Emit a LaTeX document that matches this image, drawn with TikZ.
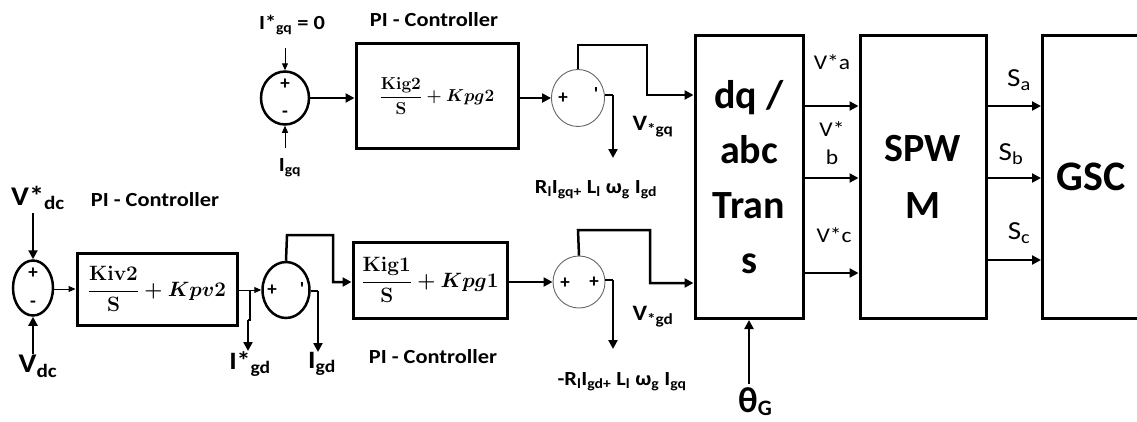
\documentclass[tikz,border=0pt]{standalone}
\usepackage[no-math]{fontspec}
\setmainfont{Carlito}
\newfontfamily\wf{Carlito}[FakeStretch=1.12]
\usetikzlibrary{arrows.meta,shapes.geometric}
\newcommand{\pifrac}[2]{\ensuremath{\displaystyle\frac{\mathrm{#1}}{\mathrm{S}}+#2}}
\begin{document}
\begin{tikzpicture}[x=1pt,y=-1pt,
  blk/.style={draw, line width=3pt, rectangle, inner sep=0pt},
  sumthick/.style={draw, ellipse, line width=2.5pt, inner sep=0pt},
  sumthin/.style={draw=black!60, ellipse, line width=0.9pt, inner sep=0pt},
  conn/.style={line width=2.5pt, -{Triangle[length=9pt,width=9pt]}},
  thinconn/.style={line width=1pt, -{Triangle[length=7pt,width=6pt]}},
  lbl/.style={font=\wf\bfseries\fontsize{20}{22}\selectfont, inner sep=0pt},
  biglbl/.style={font=\wf\bfseries\fontsize{27}{29}\selectfont, inner sep=0pt},
  vlbl/.style={font=\wf\fontsize{21}{23}\selectfont, inner sep=0pt, align=center},
  slbl/.style={font=\wf\fontsize{26}{28}\selectfont, inner sep=0pt},
  sgn/.style={font=\fontsize{19}{19}\selectfont\bfseries, inner sep=0pt},
  frm/.style={font=\fontsize{#1}{#1}\selectfont\boldmath}]
\useasboundingbox (0,0) rectangle (1137,421);
\clip (0,0) rectangle (1137,421);
\fill[white] (0,0) rectangle (1137,421);

% ---------- top (q) branch ----------
\node[sumthick, minimum width=48pt, minimum height=53pt] (sq1) at (285,98) {};
\node[sgn] (sq1p) at (285,84) {+};
\node[sgn] (sq1m) at (285,114) {-};
\node[lbl] (Iqref) at (292,25) {I*\textsubscript{gq} = 0};
\coordinate (IqrefS) at (285,48);
\draw[thinconn] (IqrefS) -- (sq1.north);
\node[lbl] (Iq) at (290,168) {I\textsubscript{gq}};
\coordinate (IqS) at (285,148);
\draw[thinconn] (IqS) -- (sq1.south);

\node[lbl] (piqlbl) at (434,20) {PI - Controller};
\node[blk, minimum width=162pt, minimum height=105pt, frm=19] (piq) at (437,96) {\pifrac{Kig2}{Kpg2}};
\draw[conn] (sq1.east) -- (piq.west |- sq1.east);

\node[sumthin, minimum width=53pt, minimum height=57pt] (sq2) at (578,98) {};
\node[sgn] (sq2p) at (563,98) {+};
\node[sgn] (sq2m) at (596,94) {\textquotesingle};
\draw[conn] (piq.east |- sq2.west) -- (sq2.west);

\coordinate (q2a) at (578,45);
\coordinate (q2b) at (647,45);
\coordinate (q2c) at (647,95);
\node[blk, minimum width=108pt, minimum height=283pt, align=center, font=\fontsize{40}{55}\selectfont\bfseries] (dq) at (749,177) {dq /\\abc\\Tran\\s};
\draw[conn] (sq2.north) -- (q2a) -- (q2b) -- (q2c) -- (dq.west |- q2c);

\coordinate (q2d) at (613,95);
\coordinate (q2e) at (613,158);
\draw[line width=2.5pt] (sq2.east |- q2d) -- (q2d);
\draw[conn] (q2d) -- (q2e);
\node[lbl, font=\wf\bfseries\fontsize{22}{24}\selectfont] (Vgq) at (653,127) {V\textsubscript{*gq}};
\node[lbl] (ffq) at (596,190) {R\textsubscript{l}I\textsubscript{gq+} L\textsubscript{l} ω\textsubscript{g} I\textsubscript{gd}};

% ---------- bottom (d) branch ----------
\node[sumthick, minimum width=40pt, minimum height=55pt] (sv) at (33,288) {};
\node[sgn] (svp) at (33,273) {+};
\node[sgn] (svm) at (33,304) {-};
\node[biglbl] (Vdcref) at (38,198) {V*\textsubscript{dc}};
\coordinate (VdcrefS) at (33,213);
\draw[conn] (VdcrefS) -- (sv.north);
\node[biglbl] (Vdc) at (38,366) {V\textsubscript{dc}};
\coordinate (VdcS) at (33,354);
\draw[conn] (VdcS) -- (sv.south);

\node[lbl] (pivlbl) at (155,200) {PI - Controller};
\node[blk, minimum width=160pt, minimum height=72pt, frm=20] (piv) at (157,289) {\pifrac{Kiv2}{Kpv2}};
\draw[thinconn] (sv.east |- piv.west) -- (piv.west);

\node[sumthick, minimum width=47pt, minimum height=56pt] (sd1) at (286,290) {};
\node[sgn] (sd1p) at (272,290) {+};
\node[sgn] (sd1m) at (302,289) {\textquotesingle};
\draw[thinconn] (piv.east |- sd1.west) -- (sd1.west);

\coordinate (ida) at (250,290);
\coordinate (idb) at (250,320);
\coordinate (idc) at (248,320);
\coordinate (idd) at (248,351);
\draw[line width=2.5pt] (ida) -- (idb) -- (idc);
\draw[conn] (idc) -- (idd);
\node[biglbl, font=\wf\bfseries\fontsize{25}{27}\selectfont] (Idref) at (250,364) {I*\textsubscript{gd}};

\coordinate (d1a) at (318,291);
\coordinate (d1b) at (318,352);
\draw[line width=2.5pt] (sd1.east |- d1a) -- (d1a);
\draw[conn] (d1a) -- (d1b);
\node[biglbl, font=\wf\bfseries\fontsize{25}{27}\selectfont] (Id) at (322,364) {I\textsubscript{gd}};

\node[blk, minimum width=154pt, minimum height=76pt, frm=20] (pid) at (430,280) {\pifrac{Kig1}{Kpg1}};
\coordinate (d1c) at (287,235);
\coordinate (d1d) at (333,235);
\coordinate (d1e) at (333,282);
\draw[conn] (sd1.north) -- (d1c) -- (d1d) -- (d1e) -- (pid.west |- d1e);
\node[lbl] (pidlbl) at (433,357) {PI - Controller};

\node[sumthin, minimum width=52pt, minimum height=52pt] (sd2) at (579,282) {};
\node[sgn] (sd2p) at (565,283) {+};
\node[sgn] (sd2q) at (594,282) {+};
\draw[conn] (pid.east |- sd2.west) -- (sd2.west);

\coordinate (d2a) at (578,230);
\coordinate (d2b) at (650,230);
\coordinate (d2c) at (650,283);
\draw[conn] (sd2.north) -- (d2a) -- (d2b) -- (d2c) -- (dq.west |- d2c);

\coordinate (d2d) at (613,280);
\coordinate (d2e) at (613,349);
\draw[line width=2.5pt] (sd2.east |- d2d) -- (d2d);
\draw[conn] (d2d) -- (d2e);
\node[lbl, font=\wf\bfseries\fontsize{22}{24}\selectfont] (Vgd) at (653,317) {V\textsubscript{*gd}};
\node[lbl] (ffd) at (622,382) {-R\textsubscript{l}I\textsubscript{gd+} L\textsubscript{l} ω\textsubscript{g} I\textsubscript{gq}};

% ---------- right part ----------
\node[blk, minimum width=126pt, minimum height=283pt, align=center, font=\fontsize{40}{57}\selectfont\bfseries] (spwm) at (923,177) {SPW\\M};
\node[blk, minimum width=97pt, minimum height=283pt, font=\fontsize{42}{44}\selectfont\bfseries] (gsc) at (1091,177) {GSC};

\coordinate (va) at (0,106);
\coordinate (vb) at (0,178);
\coordinate (vc) at (0,273);
\draw[conn] (dq.east |- va) -- (spwm.west |- va);
\draw[conn] (dq.east |- vb) -- (spwm.west |- vb);
\draw[conn] (dq.east |- vc) -- (spwm.west |- vc);
\node[vlbl] (Va) at (832,62) {V*a};
\node[vlbl, font=\wf\fontsize{21}{28}\selectfont] (Vb) at (832,143) {V*\\b};
\node[vlbl] (Vc) at (834,235) {V*c};

\coordinate (sa) at (0,106);
\coordinate (sb) at (0,178);
\coordinate (sc) at (0,260);
\draw[conn] (spwm.east |- sa) -- (gsc.west |- sa);
\draw[conn] (spwm.east |- sb) -- (gsc.west |- sb);
\draw[conn] (spwm.east |- sc) -- (gsc.west |- sc);
\node[slbl] (Sa) at (1019,80) {S\textsubscript{a}};
\node[slbl] (Sb) at (1011,154) {S\textsubscript{b}};
\node[slbl] (Sc) at (1019,233) {S\textsubscript{c}};

\coordinate (thS) at (749,384);
\draw[conn] (thS) -- (dq.south);
\node[font=\bfseries\fontsize{36}{38}\selectfont, inner sep=0pt, anchor=base] (th) at (755,412) {θ\raisebox{-3pt}{\fontsize{22}{22}\selectfont G}};
\end{tikzpicture}
\end{document}
